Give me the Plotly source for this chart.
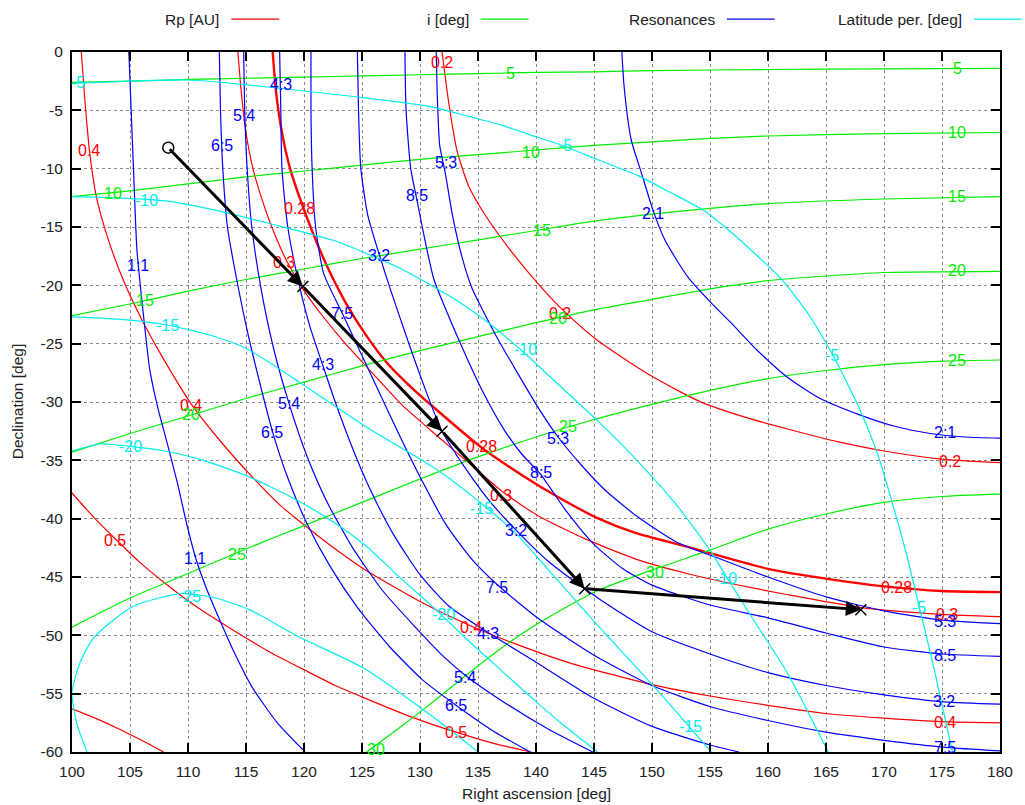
import plotly.graph_objects as go

# ---------------- Rp [AU] contours (red) ----------------
RP_0_2 = [(131.9, 0), (132.5, -4.5), (133.2, -8.5), (134.2, -11.5), (135.7, -14.1), (137.8, -17),
          (140.3, -20), (142.5, -22.3), (145.4, -24.8), (150, -27.8), (154, -29.9),
          (158, -31.3), (162, -32.4), (166, -33.4), (170, -34.2), (175, -34.9), (180, -35.2)]
RP_0_28 = [(117.3, 0), (117.6, -3.5), (118.1, -6.9), (118.8, -10), (119.7, -12.7), (120.8, -15.6),
           (122.1, -18.6), (123.6, -21.5), (125.3, -24.2), (127.2, -26.7), (129.2, -28.7), (131, -30.3),
           (135.3, -33.9), (139, -36.4), (142, -38.2), (145.4, -40), (148.5, -41.2), (153, -42.4),
           (160, -44.3), (165.4, -45.2), (170, -45.8), (175, -46.2), (180, -46.3)]
RP_0_3 = [(114.3, 0), (114.6, -3.5), (115, -6.9), (115.6, -10), (116.4, -12.7), (117.3, -15.2),
          (118.5, -17.9), (119.9, -20.3), (121.5, -22.5), (123.4, -24.8), (125.6, -27.2), (128.4, -30.2),
          (131.6, -33), (134.3, -35.3), (137, -37.6), (140.1, -39.7), (144.4, -41.8), (149, -43.6),
          (153, -44.7), (157, -45.6), (161.6, -46.5), (167.9, -47.6), (175, -48.2), (180, -48.4)]
RP_0_4 = [(100.8, 0), (101.1, -4), (101.5, -8.4), (102.1, -12.4), (103.1, -16), (104.4, -19.5),
          (106, -22.9), (108, -26.5), (110.3, -30.2), (113, -33.6), (115.8, -36.7), (118, -38.9),
          (120.1, -40.6), (122.7, -42.6), (125.3, -44.4), (130, -47.1), (134.4, -49.2), (138.4, -50.8),
          (143, -52.4), (149.9, -54.2), (155, -55.2), (160, -56), (165, -56.7), (170, -57.1),
          (175, -57.4), (180, -57.5)]
RP_0_5 = [(100, -37.8), (101.8, -39.8), (103.7, -41.7), (105.8, -43.7), (108.1, -45.6), (110.8, -47.6),
          (113.8, -49.5), (117, -51.4), (120.1, -53), (122.7, -54.3), (125.3, -55.4), (129, -56.9),
          (133.1, -58.3), (136.5, -59.3), (139.6, -60)]
RP_0_6 = [(100, -56.3), (102, -57.1), (104, -58), (106, -59), (107.9, -60)]

RP_LABEL_TEXT = ["0.2", "0.4", "0.28", "0.3", "0.2", "0.4", "0.28", "0.3", "0.2", "0.5",
                 "0.28", "0.3", "0.4", "0.4", "0.5"]
RP_LABEL_X = [131.9, 101.5, 119.6, 118.3, 142.1, 110.3, 135.3, 137.0, 175.7, 103.7,
              171.1, 175.4, 134.4, 175.3, 133.1]
RP_LABEL_Y = [-0.9, -8.4, -13.4, -18.0, -22.4, -30.3, -33.8, -38.0, -35.1, -41.9,
              -45.9, -48.2, -49.3, -57.5, -58.3]

# ---------------- i [deg] contours (green) ----------------
I_5 = [(100, -2.6), (105, -2.5), (110, -2.35), (115, -2.25), (120, -2.15), (125, -2.05), (130, -1.95),
       (135, -1.85), (140, -1.75), (145, -1.7), (150, -1.6), (160, -1.5), (170, -1.45), (180, -1.4)]
I_10 = [(100, -12.4), (105, -11.9), (110, -11.3), (115, -10.7), (120, -10.2), (125, -9.7), (130, -9.2),
        (135, -8.8), (140, -8.4), (145, -8.0), (150, -7.7), (155, -7.4), (160, -7.2), (170, -7.0),
        (180, -6.9)]
I_15 = [(100, -22.6), (105, -21.6), (110, -20.5), (115, -19.5), (120, -18.6), (125, -17.7),
        (130, -16.9), (135, -16.1), (140, -15.3), (145, -14.5), (150, -13.9), (155, -13.4),
        (160, -13.0), (170, -12.6), (180, -12.4)]
I_20 = [(100, -34.3), (105, -32.7), (110, -31.2), (115, -29.7), (120, -28.3), (125, -26.9),
        (130, -25.6), (135, -24.4), (140, -23.2), (145, -22.1), (150, -21.2), (155, -20.3),
        (160, -19.6), (165, -19.2), (170, -18.9), (180, -18.8)]
I_25 = [(100, -49.3), (105, -46.8), (110, -44.7), (115, -42.6), (120, -40.6), (125, -38.6),
        (130, -36.6), (135, -34.7), (140, -33.0), (145, -31.5), (150, -30.2), (155, -29.0),
        (160, -28.0), (165, -27.3), (170, -26.8), (175, -26.5), (180, -26.4)]
I_30 = [(125.4, -60), (128, -58.1), (131, -55.8), (134, -53.4), (137, -51.1), (140, -49.1),
        (145, -46.3), (150, -44.4), (155, -42.7), (160, -40.9), (165, -39.6), (170, -38.6),
        (175, -38.1), (180, -37.9)]

I_LABEL_TEXT = ["5", "5", "10", "10", "10", "15", "15", "15", "20", "20", "20",
                "25", "25", "25", "30", "30"]
I_LABEL_X = [137.8, 176.3, 103.5, 139.6, 176.3, 106.3, 140.5, 176.3, 110.3, 141.9, 176.3,
             114.2, 142.8, 176.3, 126.2, 150.3]
I_LABEL_Y = [-1.8, -1.4, -12.1, -8.6, -6.9, -21.3, -15.3, -12.4, -31.1, -22.8, -18.7,
             -43.1, -32.1, -26.4, -59.8, -44.6]

# ---------------- Resonances (blue) ----------------
B_1_1 = [(104.9, 0), (105.1, -5), (105.3, -10), (105.6, -17), (106.1, -22), (106.7, -27.2),
         (107.4, -30.5), (108.2, -33.5), (109.1, -37), (109.9, -40.5), (110.7, -43.5), (111.6, -46),
         (112.7, -48.6), (114, -51.5), (115.5, -54.4), (117.7, -57.5), (120.1, -60)]
B_6_5 = [(112.7, 0), (112.8, -5), (113, -10), (113.4, -15), (114.2, -19.5), (115.2, -24.3),
         (116.3, -28.8), (117.3, -32.6), (118.6, -36.5), (120.2, -40.3), (122.2, -44), (124.6, -47.6),
         (127.4, -51), (130.2, -53.8), (133.1, -56), (136.3, -58.2), (139.5, -60)]
B_5_4 = [(114.8, 0), (114.9, -5.4), (115.1, -10), (115.5, -15), (116.3, -20.3), (117.4, -25.5),
         (118.7, -30.1), (120.2, -34.5), (122, -38.6), (124.2, -42.5), (126.8, -46.2), (129.6, -49.3),
         (131.9, -51.7), (134, -53.5), (137.5, -55.9), (141, -58), (144.9, -60)]
B_4_3 = [(117.9, 0), (118, -5), (118.1, -10), (118.6, -15), (119.6, -20), (120.5, -23.5),
         (121.6, -26.8), (122.8, -30.3), (124.2, -34), (125.8, -37.7), (127.8, -41.5), (130, -44.8),
         (132.5, -47.5), (136.1, -49.9), (140, -52.3), (145, -55.4), (150, -57.8), (155, -59.4),
         (157.5, -60)]
B_7_5 = [(120.6, 0), (120.6, -5), (120.7, -10), (121, -15), (121.7, -19), (123.3, -22.4),
         (124.8, -25.6), (126.5, -29.2), (128.3, -33), (130.2, -36.8), (132.3, -40.6), (134.4, -43.4),
         (136.6, -45.6), (140, -48.4), (145, -51.7), (150, -54.3), (155, -56.1), (160, -57.3),
         (165, -58.3), (170, -59), (175.3, -59.6), (180, -59.9)]
B_3_2 = [(124.6, 0), (124.7, -5), (124.9, -10), (125.5, -14), (126.5, -17.4), (127.5, -20.5),
         (128.8, -24.3), (130.3, -28.5), (131.9, -32.5), (134, -35.8), (136, -38.5), (138.3, -41),
         (141, -43.6), (144.2, -46), (147, -47.9), (150, -49.7), (155, -51.6), (160, -53.2),
         (165, -54.3), (170, -55.1), (175.2, -55.7), (180, -55.9)]
B_8_5 = [(128.7, 0), (128.8, -5), (129.2, -10), (129.7, -12.5), (130.4, -16), (131.2, -19.5),
         (132.2, -22), (133.4, -24.8), (135.2, -28.7), (137.2, -32.3), (138.8, -34.5), (140.4, -36.2),
         (142.5, -39.2), (145, -42.2), (147.5, -44.3), (150, -45.7), (155, -47.4), (160, -48.5),
         (165, -49.8), (170, -51), (175, -51.6), (180, -51.8)]
B_5_3 = [(131.4, 0), (131.5, -4), (131.7, -8), (132.2, -10.5), (132.8, -14), (133.6, -17.5),
         (134.5, -20.3), (135.5, -22.3), (136.6, -24.4), (138.4, -27.5), (140.2, -30.5), (141.9, -33),
         (143.9, -35.4), (145.9, -37.5), (148.7, -39.8), (152.1, -42), (156, -43.5), (160, -45),
         (165, -46.7), (170, -47.9), (175, -48.7), (180, -49)]
B_2_1 = [(147.4, 0), (147.6, -3), (148.2, -7.5), (149.1, -10.4), (150.1, -13.6), (151.1, -16.1),
         (153.1, -19.3), (155, -21.4), (156.8, -23.2), (159, -25.5), (161.7, -27.9), (164.5, -29.7),
         (167.9, -31.1), (171, -32.1), (174, -32.7), (177, -33), (180, -33.1)]

B_LABEL_TEXT = ["1:1", "1:1", "6:5", "6:5", "6:5", "5:4", "5:4", "5:4", "4:3", "4:3", "4:3",
                "7:5", "7:5", "7:5", "3:2", "3:2", "3:2", "8:5", "8:5", "8:5", "5:3", "5:3", "5:3",
                "2:1", "2:1"]
B_LABEL_X = [105.7, 110.6, 112.9, 117.2, 133.1, 114.8, 118.7, 133.9, 118.0, 121.6, 135.9,
             123.3, 136.6, 175.3, 126.5, 138.3, 175.2, 129.7, 140.4, 175.3, 132.2, 141.9, 175.3,
             150.1, 175.3]
B_LABEL_Y = [-18.3, -43.4, -8.0, -32.6, -56.0, -5.4, -30.1, -53.6, -2.8, -26.8, -49.8,
             -22.4, -45.9, -59.6, -17.4, -41.0, -55.7, -12.3, -36.0, -51.7, -9.5, -33.1, -48.8,
             -13.8, -32.6]

# ---------------- Latitude of perihelion (cyan) ----------------
L_M5 = [(100, -2.7), (105, -2.5), (109.9, -2.4), (115, -2.8), (119.6, -3.3), (125, -3.9), (131, -4.7),
        (134.1, -5.5), (136.8, -6.2), (139.5, -7.1), (142.5, -8.1), (145.5, -9.3), (148.8, -10.6),
        (151.5, -12), (154.5, -13.6), (157, -15.6), (159, -17.4), (161.1, -19.4), (163.5, -22.5),
        (165.6, -26), (167.9, -30.6), (169.5, -34.6), (170.7, -38.6), (171.9, -42.9), (173, -47.4),
        (174, -51.5), (174.9, -55.5), (175.9, -60)]
L_M10 = [(100, -12.4), (104, -12.5), (108.4, -12.8), (113, -13.7), (117, -14.7), (122.7, -16.2),
         (128.4, -18.6), (133, -21.2), (136, -23.3), (139, -25.8), (141.6, -28.2), (145.3, -31.6),
         (148.7, -35), (152.1, -38.8), (155, -42.7), (156.3, -44.8), (158.7, -48.6), (161.6, -53.1),
         (165.2, -60)]
L_M15 = [(100, -22.7), (104, -22.9), (108.2, -23.4), (112, -24.3), (115, -25.4), (119.6, -28.3),
         (125.3, -32.1), (129, -34.3), (131.6, -35.9), (135.3, -38.7), (138.2, -41.2), (141, -44.3),
         (145, -48.8), (150, -54.2), (153.1, -57.7), (155.1, -60)]
L_M20 = [(100, -34.2), (102.4, -33.6), (105, -33.8), (108, -34.2), (111, -34.9), (115, -36.3),
         (119, -38.2), (122.4, -40.2), (125.3, -42.3), (128, -44.8), (131.8, -48.2), (134.1, -50.4),
         (137, -53), (139.9, -55.6), (142.5, -57.8), (145.3, -60)]
L_M25 = [(101.3, -60), (100.4, -57.5), (100.0, -54.9), (100.7, -52.3), (101.8, -50.3), (103.3, -48.9),
         (105.3, -47.5), (107.5, -46.8), (109.5, -46.4), (112.4, -46.8), (115.3, -47.8), (119.5, -50.1),
         (125.3, -52.9), (131, -56.9), (135, -60)]

L_LABEL_TEXT = ["-5", "-5", "-5", "-5", "-10", "-10", "-10", "-15", "-15", "-15", "-20", "-20", "-25"]
L_LABEL_X = [100.5, 142.5, 165.5, 173.0, 106.4, 139.1, 156.3, 108.2, 135.3, 153.3, 105.0, 132.0, 110.1]
L_LABEL_Y = [-2.6, -8.0, -26.0, -47.6, -12.7, -25.5, -45.1, -23.4, -39.1, -57.8, -33.8, -48.2, -46.7]

# ---------------- Radiant track (black) ----------------
TRACK_RA = [108.3, 119.9, 131.9, 144.2, 168.0]
TRACK_DEC = [-8.2, -20.1, -32.5, -46.0, -47.8]

X_TICKS = list(range(100, 181, 5))
Y_TICKS = list(range(-60, 1, 5))
Y_TICK_TEXT = [str(v) for v in Y_TICKS]

FONT = "Liberation Sans, Arial, Helvetica, sans-serif"
RED, GREEN, BLUE, CYAN = "#ff0000", "#00ee00", "#0000ff", "#00eeee"

fig = go.Figure()


def add_curve(pts, color, width=1.2):
    xs = [p[0] for p in pts]
    ys = [p[1] for p in pts]
    fig.add_trace(go.Scatter(x=xs, y=ys, mode="lines", showlegend=False, hoverinfo="skip",
                             line=dict(color=color, width=width, shape="spline", smoothing=0.6)))


for name, pts in [("0.2", RP_0_2), ("0.28", RP_0_28), ("0.3", RP_0_3), ("0.4", RP_0_4),
                  ("0.5", RP_0_5), ("0.6", RP_0_6)]:
    add_curve(pts, RED, 2.4 if name == "0.28" else 1.2)
for pts in [I_5, I_10, I_15, I_20, I_25, I_30]:
    add_curve(pts, GREEN)
for pts in [B_1_1, B_6_5, B_5_4, B_4_3, B_7_5, B_3_2, B_8_5, B_5_3, B_2_1]:
    add_curve(pts, BLUE)
for pts in [L_M5, L_M10, L_M15, L_M20, L_M25]:
    add_curve(pts, CYAN)

annotations = []


def add_labels(texts, xs, ys, color):
    for t, x, y in zip(texts, xs, ys):
        annotations.append(dict(x=x, y=y, xref="x", yref="y", text=t, showarrow=False,
                                font=dict(family=FONT, size=16, color=color),
                                xanchor="center", yanchor="middle"))


add_labels(RP_LABEL_TEXT, RP_LABEL_X, RP_LABEL_Y, RED)
add_labels(I_LABEL_TEXT, I_LABEL_X, I_LABEL_Y, GREEN)
add_labels(B_LABEL_TEXT, B_LABEL_X, B_LABEL_Y, BLUE)
add_labels(L_LABEL_TEXT, L_LABEL_X, L_LABEL_Y, CYAN)

# track arrows
for i in range(len(TRACK_RA) - 1):
    annotations.append(dict(x=TRACK_RA[i + 1], y=TRACK_DEC[i + 1], ax=TRACK_RA[i], ay=TRACK_DEC[i],
                            xref="x", yref="y", axref="x", ayref="y", text="", showarrow=True,
                            arrowhead=2, arrowsize=1.0, arrowwidth=3, arrowcolor="black",
                            standoff=0, startstandoff=0))

fig.add_trace(go.Scatter(x=TRACK_RA[:1], y=TRACK_DEC[:1], mode="markers", showlegend=False,
                         hoverinfo="skip",
                         marker=dict(symbol="circle-open", size=11, color="black", line=dict(width=1.5))))
fig.add_trace(go.Scatter(x=TRACK_RA[1:], y=TRACK_DEC[1:], mode="markers", showlegend=False,
                         hoverinfo="skip",
                         marker=dict(symbol="x-thin-open", size=11, color="black", line=dict(width=1.5))))

# axis titles
annotations.append(dict(x=0.5, y=-0.0586, xref="paper", yref="paper", text="Right ascension [deg]",
                        showarrow=False, font=dict(family=FONT, size=15.5, color="#222"),
                        xanchor="center", yanchor="middle"))
annotations.append(dict(x=-0.059, y=0.5, xref="paper", yref="paper", text="Declination [deg]",
                        showarrow=False, textangle=-90, font=dict(family=FONT, size=15.5, color="#222"),
                        xanchor="center", yanchor="middle"))

# legend (gnuplot style: text then sample line)
LEGEND_TEXT = ["Rp [AU]", "i [deg]", "Resonances", "Latitude per. [deg]"]
LEGEND_COLOR = [RED, GREEN, BLUE, CYAN]
legend_text_right = [0.161, 0.4297, 0.695, 0.9613]
shapes = []
for t, c, xr in zip(LEGEND_TEXT, LEGEND_COLOR, legend_text_right):
    annotations.append(dict(x=xr, y=1.047, xref="paper", yref="paper", text=t, showarrow=False,
                            font=dict(family=FONT, size=15.5, color="#222"),
                            xanchor="right", yanchor="middle"))
    shapes.append(dict(type="line", xref="paper", yref="paper", x0=xr + 0.0107, x1=xr + 0.0622,
                       y0=1.047, y1=1.047, line=dict(color=c, width=1.3)))

axis_common = dict(showline=True, linewidth=2, linecolor="black", mirror="ticks",
                   ticks="inside", ticklen=9, tickwidth=1.5, tickcolor="black",
                   showgrid=True, gridcolor="#8a8a8a", griddash="dot", gridwidth=1,
                   zeroline=False, tickfont=dict(family=FONT, size=15.5, color="#222"))

fig.update_layout(
    width=1025, height=805,
    margin=dict(l=72, r=22, t=52, b=53),
    paper_bgcolor="white", plot_bgcolor="white",
    showlegend=False,
    xaxis=dict(range=[100, 180], tickvals=X_TICKS, ticktext=[str(v) for v in X_TICKS],
               ticklabelstandoff=4, **axis_common),
    yaxis=dict(range=[-60, 0], tickvals=Y_TICKS, ticktext=Y_TICK_TEXT,
               ticklabelstandoff=4, **axis_common),
    annotations=annotations,
    shapes=shapes,
)

fig.write_html("out.html")
